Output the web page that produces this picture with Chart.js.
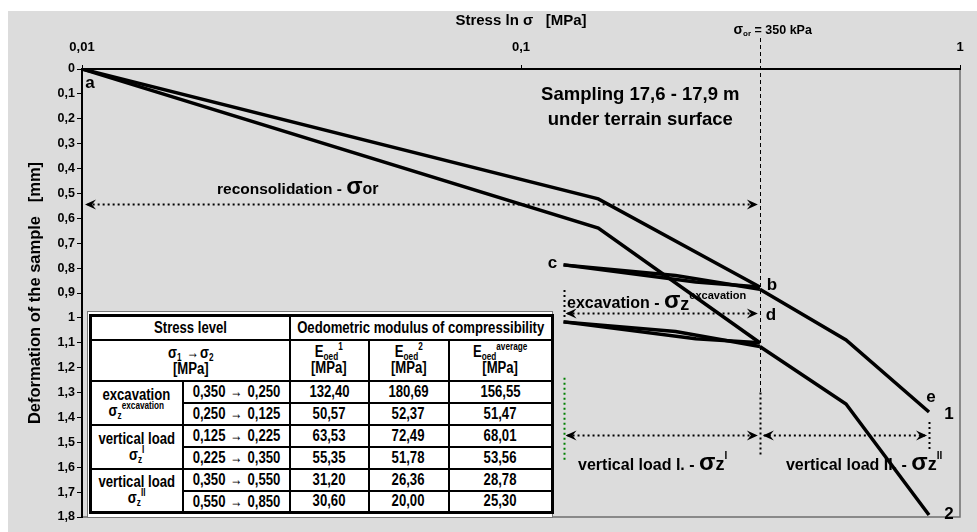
<!DOCTYPE html>
<html><head><meta charset="utf-8">
<script src="https://cdn.jsdelivr.net/npm/chart.js@4.4.0/dist/chart.umd.min.js"></script>
<style>
html,body{margin:0;padding:0;background:#fff;}
#wrap{position:relative;width:977px;height:532px;overflow:hidden;}
#c{position:absolute;left:0;top:0;}
#tbox{position:absolute;left:87px;top:311px;width:466px;height:207px;box-sizing:border-box;border:1px solid #777;background:#fff;}
#tbl{position:absolute;left:1px;top:2px;width:462px;height:199px;border-collapse:collapse;table-layout:fixed;border:3px solid #000;
 font:bold 16px "Liberation Sans",Arial,sans-serif;color:#000;}
#tbl td{border:2px solid #000;padding:0;line-height:16px;white-space:nowrap;vertical-align:middle;}
#tbl td.tb{border-top-width:1px;}
#tbl .n{display:flex;justify-content:center;align-items:center;}
#tbl .n span{display:inline-block;transform:scaleX(0.82);text-align:center;white-space:nowrap;}
#tbl sub{font-size:10px;vertical-align:-3px;line-height:0;}
#tbl sup{font-size:10px;vertical-align:7px;line-height:0;}
#tbl .ar{font-size:18px;}
</style></head>
<body>
<div id="wrap">
<canvas id="c" width="977" height="532"></canvas>
<div id="tbox"><table id="tbl"></table></div>
</div>
<script>
// ---- data ----
const xTickValues = [0.01, 0.1, 1];
const xTickLabels = ['0,01', '0,1', '1'];
const yTickValues = [0,0.1,0.2,0.3,0.4,0.5,0.6,0.7,0.8,0.9,1,1.1,1.2,1.3,1.4,1.5,1.6,1.7,1.8];
const yTickLabels = ['0','0,1','0,2','0,3','0,4','0,5','0,6','0,7','0,8','0,9','1','1,1','1,2','1,3','1,4','1,5','1,6','1,7','1,8'];

// stress [MPa]
const stressLoad   = [0.01, 0.15, 0.35];
const stressUnload = [0.35, 0.25, 0.125];
const stressReload = [0.125, 0.225, 0.35];
const stressLoadII = [0.35, 0.55, 0.85];
// deformation [mm] - sample 1
const def1Load   = [0, 0.522, 0.876];
const def1Unload = [0.876, 0.856, 0.787];
const def1Reload = [0.787, 0.830, 0.885];
const def1LoadII = [0.885, 1.089, 1.378];
// deformation [mm] - sample 2
const def2Load   = [0, 0.639, 1.100];
const def2Unload = [1.100, 1.084, 1.016];
const def2Reload = [1.016, 1.055, 1.115];
const def2LoadII = [1.115, 1.346, 1.792];

// table
const groupNames = ['excavation', 'vertical load', 'vertical load'];
const groupSymbols = ['σ<sub>z</sub><sup>excavation</sup>', 'σ<sub>z</sub><sup>I</sup>', 'σ<sub>z</sub><sup>II</sup>'];
const stressFrom = [0.350, 0.250, 0.125, 0.225, 0.350, 0.550];
const stressTo   = [0.250, 0.125, 0.225, 0.350, 0.550, 0.850];
const eoed1   = [132.40, 50.57, 63.53, 55.35, 31.20, 30.60];
const eoed2   = [180.69, 52.37, 72.49, 51.78, 26.36, 20.00];
const eoedAvg = [156.55, 51.47, 68.01, 53.56, 28.78, 25.30];

// reference stress
const sigmaOr = 0.35;

// ---- table ----
(function(){
  const f2 = v => v.toFixed(2).replace('.', ',');
  const f3 = v => v.toFixed(3).replace('.', ',');
  const c = (html, attrs) => '<td' + (attrs || '') + '><div class="n"><span>' + html + '</span></div></td>';
  let h = '<colgroup><col style="width:92px"><col style="width:107px"><col style="width:79px"><col style="width:80px"><col style="width:104px"></colgroup>';
  h += '<tr style="height:24px">' + c('Stress level', ' colspan="2"') + c('Oedometric modulus of compressibility', ' colspan="3"') + '</tr>';
  h += '<tr style="height:41px">' + c('σ<sub>1</sub> <span class="ar">→</span>σ<sub>2</sub><br>[MPa]', ' colspan="2" class="tb"') +
       c('E<sub>oed</sub><sup>1</sup><br>[MPa]', ' class="tb"') + c('E<sub>oed</sub><sup>2</sup><br>[MPa]', ' class="tb"') +
       c('E<sub>oed</sub><sup>average</sup><br>[MPa]', ' class="tb"') + '</tr>';
  for (let i = 0; i < stressFrom.length; i++) {
    const g = Math.floor(i / 2), first = i % 2 === 0;
    h += '<tr style="height:22px">';
    if (first) h += c(groupNames[g] + '<br>' + groupSymbols[g], ' rowspan="2"');
    const cls = first ? '' : ' class="tb"';
    h += c(f3(stressFrom[i]) + ' <span class="ar">→</span> ' + f3(stressTo[i]), cls);
    h += c(f2(eoed1[i]), cls) + c(f2(eoed2[i]), cls) + c(f2(eoedAvg[i]), cls) + '</tr>';
  }
  document.getElementById('tbl').innerHTML = h;
})();

// ---- chart ----
const SANS = '"Liberation Sans",Arial,sans-serif';
const pts = (xs, ys) => xs.map((x, i) => ({x: x, y: ys[i]}));

function rich(ctx, x, y, parts, align) {
  let w = 0;
  parts.forEach(p => { ctx.font = p.f; p.w = ctx.measureText(p.t).width; w += p.w + (p.gap || 0); });
  let cx = align === 'center' ? x - w / 2 : x;
  ctx.textAlign = 'left';
  parts.forEach(p => { ctx.font = p.f; ctx.fillText(p.t, cx, y + (p.dy || 0)); cx += p.w + (p.gap || 0); });
}
function arrowHead(ctx, x, y, dir) {
  ctx.beginPath();
  ctx.moveTo(x, y);
  ctx.lineTo(x - dir * 11, y - 5);
  ctx.lineTo(x - dir * 7, y);
  ctx.lineTo(x - dir * 11, y + 5);
  ctx.closePath();
  ctx.fill();
}
function dotted(ctx, x1, y1, x2, y2, color) {
  ctx.save();
  ctx.strokeStyle = color || '#000';
  ctx.lineWidth = 2;
  ctx.setLineDash([2, 3]);
  ctx.beginPath(); ctx.moveTo(x1, y1); ctx.lineTo(x2, y2); ctx.stroke();
  ctx.restore();
}

const decor = {
  id: 'decor',
  beforeDraw(chart) {
    const ctx = chart.ctx, a = chart.chartArea;
    ctx.save();
    ctx.fillStyle = '#dcdcdc';
    ctx.fillRect(8, 11, chart.width - 8, chart.height - 11);
    ctx.strokeStyle = '#6e6e6e';
    ctx.lineWidth = 1.5;
    ctx.strokeRect(a.left, a.top, a.right - a.left, a.bottom - a.top);
    ctx.restore();
  },
  beforeDatasetsDraw(chart) {
    const ctx = chart.ctx, a = chart.chartArea;
    const X = v => chart.scales.x.getPixelForValue(v);
    const Y = v => chart.scales.y.getPixelForValue(v);
    ctx.save();
    ctx.fillStyle = '#000';
    ctx.textBaseline = 'alphabetic';

    // sigma_or vertical line
    const xo = Math.round(X(sigmaOr)) + 0.5;
    ctx.save();
    ctx.strokeStyle = '#000'; ctx.lineWidth = 1; ctx.setLineDash([4, 3]);
    ctx.beginPath(); ctx.moveTo(xo, a.top - 31); ctx.lineTo(xo, Y(1.30)); ctx.stroke();
    ctx.restore();
    dotted(ctx, xo, Y(1.30), xo, Y(1.56));
    rich(ctx, xo - 27, a.top - 35, [
      {t: 'σ', f: 'bold 14px ' + SANS},
      {t: 'or', f: 'bold 8px ' + SANS, dy: 2},
      {t: ' = 350 kPa', f: 'bold 12.5px ' + SANS}
    ]);

    // reconsolidation arrow
    const yr = Math.round(Y(0.542)) + 0.5;
    dotted(ctx, X(0.0103), yr, X(sigmaOr) - 4, yr);
    arrowHead(ctx, X(0.01) + 3, yr, -1);
    arrowHead(ctx, X(sigmaOr) - 2, yr, 1);
    rich(ctx, X(0.0203), yr - 11, [
      {t: 'reconsolidation - ', f: 'bold 15.5px ' + SANS},
      {t: 'σ', f: 'bold 24px ' + SANS},
      {t: 'or', f: 'bold 16px ' + SANS}
    ]);

    // excavation arrow
    const ye = Math.round(Y(0.98)) + 0.5;
    dotted(ctx, X(0.125) + 4, ye, X(sigmaOr) - 4, ye);
    arrowHead(ctx, X(0.125) + 2, ye, -1);
    arrowHead(ctx, X(sigmaOr) - 2, ye, 1);
    dotted(ctx, Math.round(X(0.125)) + 0.5, Y(0.888), Math.round(X(0.125)) + 0.5, Y(1.008));
    rich(ctx, X(0.1273), ye - 6, [
      {t: 'excavation - ', f: 'bold 16px ' + SANS},
      {t: 'σ', f: 'bold 24px ' + SANS},
      {t: 'z', f: 'bold 18px ' + SANS, dy: 2},
      {t: 'excavation', f: 'bold 11px ' + SANS, dy: -9, gap: 0}
    ]);

    // vertical load arrows
    const yv = Math.round(Y(1.47)) + 0.5;
    dotted(ctx, X(0.125) + 4, yv, X(sigmaOr) - 4, yv);
    arrowHead(ctx, X(0.125) + 2, yv, -1);
    arrowHead(ctx, X(sigmaOr) - 2, yv, 1);
    dotted(ctx, X(sigmaOr) + 4, yv, X(0.85) - 4, yv);
    arrowHead(ctx, X(sigmaOr) + 3, yv, -1);
    arrowHead(ctx, X(0.85) - 2, yv, 1);
    dotted(ctx, Math.round(X(0.125)) + 0.5, Y(1.241), Math.round(X(0.125)) + 0.5, Y(1.58), '#008000');
    dotted(ctx, Math.round(X(0.85)) + 0.5, Y(1.418), Math.round(X(0.85)) + 0.5, Y(1.539));
    rich(ctx, X(0.1349), yv + 34, [
      {t: 'vertical load I. - ', f: 'bold 16px ' + SANS},
      {t: 'σ', f: 'bold 24px ' + SANS},
      {t: 'z', f: 'bold 18px ' + SANS},
      {t: 'I', f: 'bold 10px ' + SANS, dy: -11}
    ]);
    rich(ctx, X(0.4014), yv + 34, [
      {t: 'vertical load II. - ', f: 'bold 16px ' + SANS},
      {t: 'σ', f: 'bold 24px ' + SANS},
      {t: 'z', f: 'bold 18px ' + SANS},
      {t: 'II', f: 'bold 10px ' + SANS, dy: -11}
    ]);

    // sampling text
    ctx.textAlign = 'center';
    ctx.textBaseline = 'middle';
    ctx.font = 'bold 18.5px ' + SANS;
    ctx.fillText('Sampling 17,6 - 17,9 m', X(0.187), Y(0.104));
    ctx.fillText('under terrain surface', X(0.187), Y(0.205));

    // point letters
    ctx.font = 'bold 17px ' + SANS;
    const lab = (t, x, y, dx, dy) => ctx.fillText(t, X(x) + dx, Y(y) + dy);
    lab('a', 0.01, 0, 8, 14);
    lab('b', 0.35, def1Unload[0], 12, -2);
    lab('c', 0.125, def1Unload[2], -11, -2);
    lab('d', 0.35, 0.98, 11, 2);
    lab('e', 0.85, def1LoadII[2], 2, -15);
    lab('1', 0.85, def1LoadII[2], 20, 2);
    lab('2', 0.85, def2LoadII[2], 20, -1);
    ctx.restore();
  }
};

const lineStyle = {borderColor: '#000', backgroundColor: '#000', borderWidth: 3.5, pointRadius: 0, showLine: true, fill: false, tension: 0};

new Chart(document.getElementById('c'), {
  type: 'scatter',
  data: {
    datasets: [
      Object.assign({data: pts(stressLoad, def1Load)}, lineStyle),
      Object.assign({data: pts(stressUnload, def1Unload)}, lineStyle),
      Object.assign({data: pts(stressReload, def1Reload)}, lineStyle),
      Object.assign({data: pts(stressLoadII, def1LoadII)}, lineStyle),
      Object.assign({data: pts(stressLoad, def2Load)}, lineStyle),
      Object.assign({data: pts(stressUnload, def2Unload)}, lineStyle),
      Object.assign({data: pts(stressReload, def2Reload)}, lineStyle),
      Object.assign({data: pts(stressLoadII, def2LoadII)}, lineStyle)
    ]
  },
  options: {
    responsive: false,
    animation: false,
    layout: {padding: {left: 0, top: 0, right: 17, bottom: 15}},
    plugins: {legend: {display: false}, tooltip: {enabled: false}},
    scales: {
      x: {
        type: 'logarithmic', position: 'top', min: 0.01, max: 1,
        afterBuildTicks: s => { s.ticks = xTickValues.map(v => ({value: v})); },
        afterFit: s => { s.height = 69; },
        grid: {drawOnChartArea: false, drawTicks: true, tickLength: 4, color: '#000'},
        border: {color: '#000', width: 2},
        ticks: {color: '#000', font: {family: SANS, size: 13, weight: 'bold'}, padding: 10, maxRotation: 0, autoSkip: false,
                callback: (v, i) => xTickLabels[i]},
        title: {display: true, text: 'Stress ln σ   [MPa]', color: '#000', font: {family: SANS, size: 15, weight: 'bold'}, padding: {top: 12, bottom: 0}}
      },
      y: {
        reverse: true, min: 0, max: 1.8,
        afterBuildTicks: s => { s.ticks = yTickValues.map(v => ({value: v})); },
        afterFit: s => { s.width = 82; },
        grid: {drawOnChartArea: false, drawTicks: true, tickLength: 5, color: '#000'},
        border: {color: '#000', width: 2},
        ticks: {color: '#000', font: {family: SANS, size: 12.5, weight: 'bold'}, padding: 2, autoSkip: false,
                callback: (v, i) => yTickLabels[i]},
        title: {display: true, text: 'Deformation of the sample   [mm]', color: '#000', font: {family: SANS, size: 16.5, weight: 'bold'}, padding: {top: 26, bottom: 0}}
      }
    }
  },
  plugins: [decor]
});
</script>
</body></html>
